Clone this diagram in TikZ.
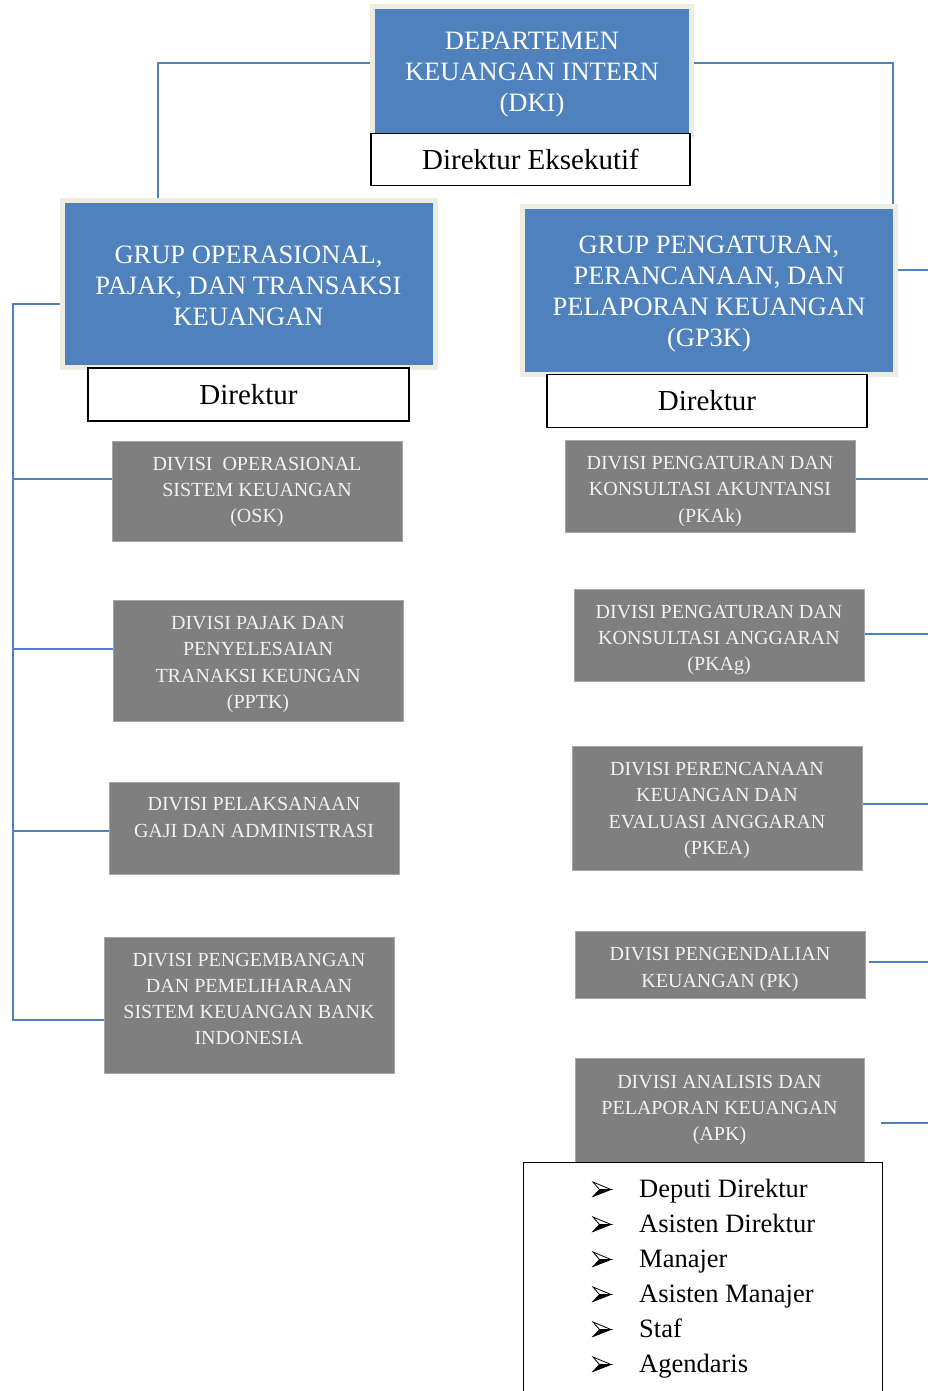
\documentclass[tikz,border=0pt]{standalone}
\usepackage{fontspec}
\setmainfont{Liberation Serif}
\definecolor{ublue}{HTML}{4F81BD}
\definecolor{ubeige}{HTML}{EEECE1}
\definecolor{ugray}{HTML}{7F7F7F}
\definecolor{ugrayedge}{HTML}{A6A6A6}
\definecolor{utext}{HTML}{F2F2F2}
% #1 name, #2 style, #3 position, #4 box options, #5 downward text shift, #6 text
\newcommand{\boxwithtext}[6]{%
  \node[#2box, #4] (#1) at (#3) {};
  \node[#2text] (#1-t) at ([yshift=-#5pt]#1.center) {#6};
}
\begin{document}
\begin{tikzpicture}[x=1pt,y=-1pt,
  grpbox/.style={fill=ublue, draw=ubeige, line width=5pt, inner sep=0pt},
  grptext/.style={text=white, align=center, inner sep=0pt, font=\fontsize{26.5}{31}\selectfont},
  dirbox/.style={fill=white, draw=black, line width=1.2pt, inner sep=0pt, font=\fontsize{29}{34}\selectfont},
  divbox/.style={fill=ugray, draw=ugrayedge, line width=1pt, inner sep=0pt, minimum width=290pt},
  divtext/.style={text=utext, align=center, inner sep=0pt, font=\fontsize{20}{26.3}\selectfont},
  conn/.style={draw=ublue, line width=2pt},
  listitem/.style={anchor=base west, inner sep=0pt, font=\fontsize{26.5}{32}\selectfont},
  bullettop/.style={fill=white, draw=black, line width=0.8pt, line join=miter},
  bulletbot/.style={fill=black, draw=black, line width=0.8pt, line join=miter}
]
\useasboundingbox (0,0) rectangle (928,1391);
\fill[white] (0,0) rectangle (928,1391);

% top
\boxwithtext{dki}{grp}{532,71}{minimum width=319pt, minimum height=129pt}{4}{DEPARTEMEN\\KEUANGAN INTERN\\(DKI)}
\node[dirbox, minimum width=319pt, minimum height=52pt] (dke) at (530.5,159.5) {Direktur Eksekutif};

% groups
\boxwithtext{gop}{grp}{248.5,284}{minimum width=373pt, minimum height=167pt}{1.5}{GRUP OPERASIONAL,\\PAJAK, DAN TRANSAKSI\\KEUANGAN}
\node[dirbox, minimum width=321pt, minimum height=53pt] (ldir) at (248.5,394.5) {Direktur};
\boxwithtext{gp3}{grp}{709,290.5}{minimum width=373pt, minimum height=168pt}{4}{GRUP PENGATURAN,\\PERANCANAAN, DAN\\PELAPORAN KEUANGAN\\(GP3K)}
\node[dirbox, minimum width=320pt, minimum height=53pt] (rdir) at (707,401) {Direktur};

% left divisions
\boxwithtext{osk}{div}{257,491}{minimum height=100pt}{1}{DIVISI\ \ OPERASIONAL\\SISTEM KEUANGAN\\(OSK)}
\boxwithtext{pptk}{div}{258,660.5}{minimum height=121pt}{4}{DIVISI PAJAK DAN\\PENYELESAIAN\\TRANAKSI KEUNGAN\\(PPTK)}
\boxwithtext{gaji}{div}{254,828}{minimum height=92pt}{-10.5}{DIVISI PELAKSANAAN\\GAJI DAN ADMINISTRASI}
\boxwithtext{pem}{div}{249,1005}{minimum height=136pt}{-6}{DIVISI PENGEMBANGAN\\DAN PEMELIHARAAN\\SISTEM KEUANGAN BANK\\INDONESIA}

% right divisions
\boxwithtext{pkak}{div}{710,486}{minimum height=92pt}{5.5}{DIVISI PENGATURAN DAN\\KONSULTASI AKUNTANSI\\(PKAk)}
\boxwithtext{pkag}{div}{719,635}{minimum height=92pt}{5}{DIVISI PENGATURAN DAN\\KONSULTASI ANGGARAN\\(PKAg)}
\boxwithtext{pkea}{div}{717,808}{minimum height=124pt}{2.5}{DIVISI PERENCANAAN\\KEUANGAN DAN\\EVALUASI ANGGARAN\\(PKEA)}
\boxwithtext{pk}{div}{720,964.5}{minimum height=67pt}{5}{DIVISI PENGENDALIAN\\KEUANGAN (PK)}
\boxwithtext{apk}{div}{719.5,1110}{minimum height=104pt, minimum width=289pt}{0}{DIVISI ANALISIS DAN\\PELAPORAN KEUANGAN\\(APK)}

% list box
\node[draw=black, fill=white, line width=1.2pt, minimum width=359pt, minimum height=240pt, anchor=north west, inner sep=0pt] (lst) at (522.5,1162) {};
\foreach \t [count=\i] in {Deputi Direktur, Asisten Direktur, Manajer, Asisten Manajer, Staf, Agendaris}{
  \node[listitem] (li\i) at (639,1162+35*\i) {\t};
  \coordinate (b\i) at ([xshift=-46pt]li\i.base west);
  \filldraw[bullettop] ([yshift=15pt]b\i) -- ([xshift=18pt,yshift=7.5pt]b\i) -- ([xshift=6.5pt,yshift=7.5pt]b\i) -- cycle;
  \filldraw[bulletbot] ([xshift=6.5pt,yshift=7.5pt]b\i) -- ([xshift=18pt,yshift=7.5pt]b\i) -- ([yshift=0.5pt]b\i) -- cycle;
}

% connectors from top
\draw[conn] ([yshift=8pt]dki.west) -| ([xshift=98pt]gop.north west);
\draw[conn] ([yshift=8pt]dki.east) -| ([xshift=-5.5pt]gp3.north east);

% left bus
\coordinate (busL) at (13,1020);
\draw[conn] ([yshift=-20pt]gop.west) -| (busL) -- (busL -| pem.west);
\coordinate (oskL) at ([yshift=12pt]osk.west);
\coordinate (pptkL) at ([yshift=11.5pt]pptk.west);
\coordinate (gajiL) at ([yshift=-3pt]gaji.west);
\draw[conn] (oskL) -- (oskL -| busL);
\draw[conn] (pptkL) -- (pptkL -| busL);
\draw[conn] (gajiL) -- (gajiL -| busL);

% right stubs
\coordinate (edgeR) at (928,0);
\coordinate (gp3R) at ([yshift=20.5pt]gp3.east);
\coordinate (pkakR) at ([yshift=7pt]pkak.east);
\coordinate (pkagR) at ([yshift=1pt]pkag.east);
\coordinate (pkeaR) at ([yshift=4pt]pkea.east);
\coordinate (pkR) at ([yshift=2.5pt,xshift=3pt]pk.east);
\coordinate (apkR) at ([yshift=-13pt,xshift=16pt]apk.east);
\foreach \c in {gp3R,pkakR,pkagR,pkeaR,pkR,apkR}
  \draw[conn] (\c) -- (\c -| edgeR);
\end{tikzpicture}
\end{document}
